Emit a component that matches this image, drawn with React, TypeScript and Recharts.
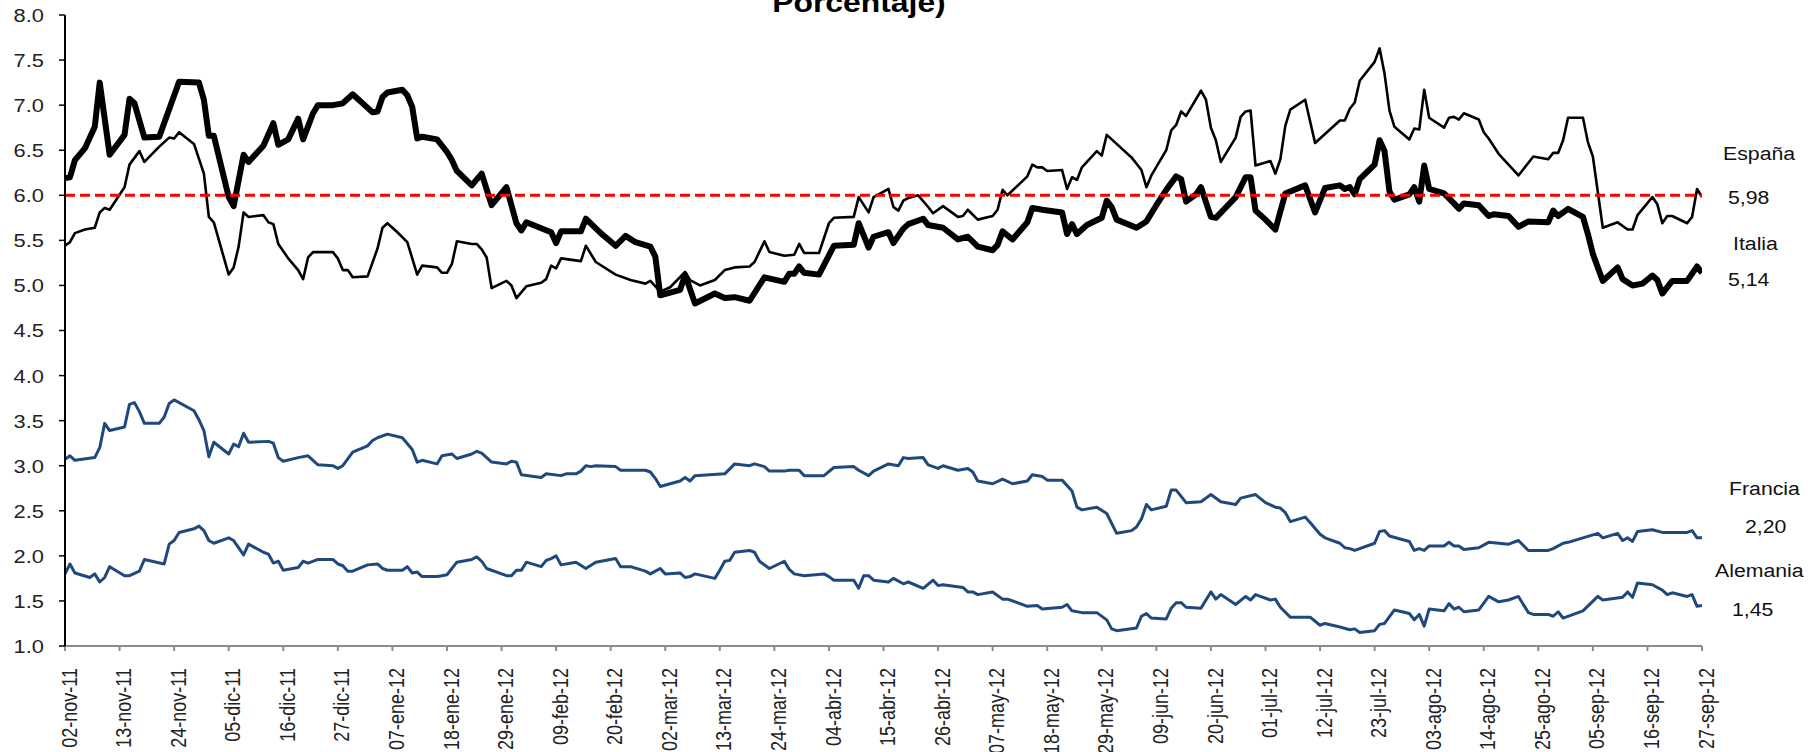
import { LineChart, Line, XAxis, YAxis, ReferenceLine } from 'recharts';

// días transcurridos desde el 02-nov-11
const TICK_LABELS = [
  '02-nov-11', '13-nov-11', '24-nov-11', '05-dic-11', '16-dic-11', '27-dic-11',
  '07-ene-12', '18-ene-12', '29-ene-12', '09-feb-12', '20-feb-12', '02-mar-12',
  '13-mar-12', '24-mar-12', '04-abr-12', '15-abr-12', '26-abr-12', '07-may-12',
  '18-may-12', '29-may-12', '09-jun-12', '20-jun-12', '01-jul-12', '12-jul-12',
  '23-jul-12', '03-ago-12', '14-ago-12', '25-ago-12', '05-sep-12', '16-sep-12',
  '27-sep-12',
];
const TICK_STEP = 11;
const Y_TICKS = [1, 1.5, 2, 2.5, 3, 3.5, 4, 4.5, 5, 5.5, 6, 6.5, 7, 7.5, 8];
const LIMIT = 6;

const ITALIA_DAYS = [
  0, 1, 2, 4, 6, 7, 9, 12, 13, 14, 16, 19, 23, 27, 28, 29, 30, 33, 34, 36, 37, 40, 42, 43, 45,
  47, 48, 50, 51, 54, 56, 58, 62, 63, 64, 65, 68, 69, 70, 71, 72, 75, 77, 78, 79, 82, 84, 86, 89,
  91, 92, 93, 98, 99, 100, 104, 105, 108, 111, 113, 115, 118, 119, 120, 124, 125, 127, 131, 133,
  135, 138, 141, 145, 146, 147, 148, 149, 152, 155, 159, 160, 162, 163, 166, 167, 169, 170, 173,
  174, 177, 180, 182, 184, 187, 188, 189, 191, 194, 195, 197, 201, 202, 203, 204, 206, 209, 210,
  211, 212, 216, 218, 220, 222, 224, 225, 226, 228, 229, 231, 232, 236, 238, 239, 240, 242, 244,
  246, 250, 252, 254, 257, 258, 259, 260, 261, 264, 265, 266, 267, 268, 271, 272, 273, 274, 275,
  278, 280, 281, 282, 285, 287, 288, 291, 293, 295, 299, 300, 301, 303, 306, 307, 308, 310, 313,
  314, 316, 318, 320, 321, 322, 324, 327, 329, 330,
];
const ITALIA = [
  6.19, 6.2, 6.39, 6.52, 6.76, 7.25, 6.45, 6.67, 7.07, 7.02, 6.64, 6.65, 7.26, 7.25, 7.06, 6.66,
  6.66, 5.98, 5.88, 6.45, 6.37, 6.55, 6.8, 6.56, 6.62, 6.85, 6.62, 6.91, 7.0, 7.0, 7.02, 7.12,
  6.92, 6.93, 7.09, 7.14, 7.17, 7.11, 6.98, 6.63, 6.65, 6.62, 6.48, 6.39, 6.27, 6.11, 6.24, 5.89,
  6.09, 5.69, 5.61, 5.7, 5.59, 5.47, 5.6, 5.6, 5.74, 5.58, 5.44, 5.55, 5.48, 5.43, 5.32, 4.89,
  4.95, 5.12, 4.8, 4.91, 4.86, 4.87, 4.83, 5.09, 5.04, 5.13, 5.13, 5.21, 5.14, 5.12, 5.44, 5.45,
  5.69, 5.42, 5.54, 5.59, 5.47, 5.63, 5.68, 5.74, 5.67, 5.64, 5.51, 5.54, 5.43, 5.39, 5.45, 5.6,
  5.51, 5.7, 5.86, 5.84, 5.81, 5.57, 5.68, 5.57, 5.67, 5.75, 5.94, 5.87, 5.73, 5.64, 5.71, 5.89,
  6.06, 6.21, 6.18, 5.93, 6.01, 6.09, 5.76, 5.75, 5.98, 6.2, 6.2, 5.83, 5.73, 5.62, 6.02, 6.11,
  5.81, 6.08, 6.11, 6.07, 6.09, 6.01, 6.18, 6.34, 6.61, 6.49, 6.04, 5.95, 6.01, 6.09, 5.93, 6.33,
  6.07, 6.02, 5.91, 5.85, 5.91, 5.89, 5.77, 5.79, 5.77, 5.65, 5.71, 5.7, 5.83, 5.77, 5.85, 5.76,
  5.57, 5.35, 5.05, 5.2, 5.07, 5.0, 5.02, 5.11, 5.06, 4.91, 5.05, 5.05, 5.21, 5.14,
];

const ESPANA_DAYS = [
  0, 1, 2, 4, 6, 7, 8, 9, 12, 13, 15, 16, 19, 21, 22, 23, 26, 28, 29, 30, 33, 34, 35, 36, 37, 40,
  41, 42, 43, 45, 47, 48, 49, 50, 54, 55, 56, 57, 58, 61, 63, 64, 65, 67, 69, 71, 72, 75, 76, 77,
  78, 79, 82, 83, 84, 85, 86, 89, 90, 91, 93, 96, 97, 98, 99, 100, 104, 105, 107, 111, 114, 117,
  118, 120, 122, 125, 126, 128, 131, 133, 135, 138, 139, 141, 142, 145, 147, 148, 149, 152, 154,
  155, 159, 160, 162, 163, 166, 167, 168, 169, 170, 172, 174, 175, 177, 180, 181, 182, 184, 187,
  188, 189, 190, 194, 195, 196, 197, 198, 201, 202, 203, 204, 205, 208, 209, 210, 212, 215, 217,
  218, 219, 222, 223, 224, 225, 226, 229, 230, 231, 232, 233, 236, 237, 238, 239, 240, 243, 244,
  245, 246, 247, 250, 252, 254, 257, 258, 259, 260, 261, 264, 265, 266, 267, 268, 271, 272, 273,
  274, 275, 278, 279, 280, 281, 282, 285, 286, 287, 289, 293, 296, 299, 300, 301, 302, 303, 306,
  307, 308, 310, 313, 315, 316, 317, 320, 321, 322, 323, 324, 327, 328, 329, 330,
];
const ESPANA = [
  5.44, 5.48, 5.58, 5.62, 5.64, 5.81, 5.86, 5.84, 6.09, 6.34, 6.49, 6.37, 6.54, 6.64, 6.63, 6.7,
  6.57, 6.24, 5.76, 5.7, 5.12, 5.2, 5.43, 5.81, 5.76, 5.78, 5.7, 5.68, 5.46, 5.3, 5.17, 5.07, 5.31,
  5.37, 5.37, 5.3, 5.17, 5.17, 5.09, 5.1, 5.41, 5.64, 5.69, 5.59, 5.48, 5.12, 5.22, 5.2, 5.14, 5.14,
  5.24, 5.49, 5.46, 5.46, 5.4, 5.31, 4.97, 5.05, 5.0, 4.86, 4.99, 5.03, 5.07, 5.22, 5.19, 5.3, 5.27,
  5.44, 5.26, 5.12, 5.06, 5.02, 5.05, 4.93, 4.98, 5.15, 5.06, 5.0, 5.06, 5.17, 5.2, 5.21, 5.26, 5.49,
  5.37, 5.33, 5.34, 5.46, 5.36, 5.36, 5.69, 5.75, 5.76, 5.98, 5.81, 5.98, 6.07, 5.87, 5.83, 5.94,
  5.97, 6.0, 5.87, 5.8, 5.88, 5.76, 5.77, 5.84, 5.73, 5.77, 5.84, 6.06, 6.0, 6.21, 6.34, 6.31, 6.31,
  6.27, 6.28, 6.07, 6.2, 6.17, 6.31, 6.49, 6.44, 6.67, 6.57, 6.42, 6.28, 6.09, 6.22, 6.5, 6.72, 6.78,
  6.93, 6.88, 7.16, 7.06, 6.75, 6.61, 6.37, 6.64, 6.87, 6.93, 6.94, 6.33, 6.38, 6.24, 6.4, 6.77,
  6.95, 7.06, 6.58, 6.68, 6.83, 6.83, 6.96, 7.03, 7.27, 7.48, 7.63, 7.35, 6.94, 6.76, 6.62, 6.74,
  6.73, 7.17, 6.86, 6.75, 6.86, 6.87, 6.84, 6.91, 6.84, 6.7, 6.63, 6.46, 6.22, 6.43, 6.4, 6.47, 6.47,
  6.61, 6.86, 6.86, 6.59, 6.43, 5.64, 5.7, 5.62, 5.62, 5.78, 5.98, 5.9, 5.69, 5.77, 5.77, 5.69, 5.76,
  6.07, 5.98,
];

const FRANCIA_DAYS = [
  0, 1, 2, 6, 7, 8, 9, 12, 13, 14, 15, 16, 19, 20, 21, 22, 26, 27, 28, 29, 30, 33, 34, 35, 36, 37,
  41, 42, 43, 44, 47, 49, 51, 54, 55, 56, 58, 61, 62, 63, 65, 68, 70, 71, 72, 75, 76, 78, 79, 82,
  83, 84, 86, 89, 90, 91, 92, 96, 97, 100, 101, 103, 104, 105, 106, 107, 111, 112, 117, 118, 119,
  120, 124, 125, 126, 127, 133, 135, 138, 139, 141, 142, 145, 146, 148, 149, 153, 155, 159, 160,
  162, 163, 166, 168, 169, 170, 173, 174, 176, 177, 180, 182, 183, 184, 187, 189, 191, 194, 195,
  197, 198, 201, 203, 204, 205, 208, 210, 212, 215, 216, 217, 218, 219, 222, 223, 224, 226, 229,
  231, 233, 236, 237, 240, 242, 244, 245, 246, 247, 250, 251, 253, 254, 257, 258, 259, 260, 264,
  265, 266, 267, 271, 272, 273, 274, 275, 278, 279, 280, 281, 282, 285, 287, 291, 293, 295, 299,
  300, 302, 303, 309, 310, 313, 314, 315, 316, 317, 320, 322, 327, 328, 329, 330,
];
const FRANCIA = [
  3.07, 3.11, 3.06, 3.09, 3.2, 3.47, 3.39, 3.43, 3.68, 3.7, 3.6, 3.47, 3.47, 3.54, 3.69, 3.73, 3.61,
  3.51, 3.39, 3.1, 3.26, 3.13, 3.24, 3.21, 3.36, 3.26, 3.27, 3.25, 3.09, 3.05, 3.09, 3.11, 3.01,
  3.0, 2.97, 3.0, 3.15, 3.22, 3.28, 3.31, 3.35, 3.31, 3.18, 3.04, 3.06, 3.02, 3.11, 3.13, 3.08,
  3.13, 3.16, 3.14, 3.04, 3.02, 3.05, 3.04, 2.9, 2.87, 2.91, 2.89, 2.91, 2.91, 2.94, 3.0, 2.99, 3.0,
  2.99, 2.95, 2.95, 2.93, 2.86, 2.77, 2.83, 2.87, 2.83, 2.89, 2.91, 3.02, 3.0, 3.02, 2.99, 2.94,
  2.94, 2.95, 2.95, 2.89, 2.89, 2.98, 2.99, 2.95, 2.89, 2.94, 3.02, 3.0, 3.09, 3.08, 3.09, 3.01,
  2.97, 3.0, 2.95, 2.97, 2.93, 2.83, 2.8, 2.85, 2.8, 2.83, 2.9, 2.88, 2.84, 2.84, 2.72, 2.54, 2.51,
  2.54, 2.47, 2.25, 2.28, 2.32, 2.41, 2.57, 2.51, 2.55, 2.73, 2.73, 2.59, 2.6, 2.68, 2.6, 2.57, 2.64,
  2.68, 2.59, 2.54, 2.53, 2.48, 2.38, 2.43, 2.37, 2.24, 2.2, 2.14, 2.09, 2.08, 2.06, 2.14, 2.27,
  2.28, 2.22, 2.16, 2.06, 2.08, 2.06, 2.11, 2.11, 2.15, 2.11, 2.11, 2.07, 2.09, 2.15, 2.13, 2.17,
  2.06, 2.06, 2.08, 2.14, 2.15, 2.25, 2.2, 2.25, 2.17, 2.2, 2.16, 2.27, 2.29, 2.26, 2.26, 2.28, 2.2,
  2.2,
];

const ALEMANIA_DAYS = [
  0, 1, 2, 5, 6, 7, 8, 9, 12, 13, 15, 16, 20, 21, 22, 23, 26, 27, 28, 29, 30, 33, 34, 36, 37, 40,
  41, 42, 43, 44, 47, 48, 49, 51, 54, 55, 56, 57, 58, 61, 63, 64, 65, 68, 69, 70, 71, 72, 75, 76,
  77, 79, 82, 83, 84, 85, 89, 90, 91, 92, 93, 96, 97, 98, 99, 100, 103, 105, 107, 111, 112, 114,
  117, 118, 120, 121, 124, 125, 126, 127, 131, 132, 133, 134, 135, 138, 139, 140, 142, 145, 146,
  147, 149, 153, 154, 155, 159, 160, 161, 162, 163, 166, 167, 169, 170, 173, 175, 176, 177, 181,
  182, 183, 184, 187, 189, 190, 194, 196, 197, 201, 202, 203, 205, 208, 210, 211, 212, 216, 217,
  218, 219, 222, 223, 224, 225, 226, 229, 231, 232, 233, 236, 238, 239, 240, 243, 244, 245, 247,
  251, 253, 254, 257, 259, 260, 261, 264, 265, 266, 268, 271, 272, 273, 274, 275, 278, 279, 280,
  281, 282, 285, 287, 289, 291, 293, 295, 296, 299, 300, 301, 302, 306, 309, 310, 314, 315, 316,
  317, 320, 322, 323, 324, 327, 328, 329, 330,
];
const ALEMANIA = [
  1.8, 1.91, 1.81, 1.76, 1.8, 1.71, 1.76, 1.88, 1.78, 1.78, 1.83, 1.96, 1.91, 2.13, 2.17, 2.26, 2.3,
  2.33, 2.28, 2.17, 2.14, 2.2, 2.17, 2.01, 2.13, 2.04, 2.02, 1.92, 1.94, 1.84, 1.87, 1.94, 1.92,
  1.96, 1.96, 1.91, 1.89, 1.83, 1.83, 1.9, 1.91, 1.86, 1.84, 1.84, 1.88, 1.81, 1.82, 1.77, 1.77,
  1.78, 1.79, 1.93, 1.96, 1.99, 1.94, 1.86, 1.78, 1.78, 1.84, 1.84, 1.93, 1.88, 1.95, 1.97, 2.0,
  1.9, 1.93, 1.86, 1.93, 1.97, 1.88, 1.88, 1.83, 1.8, 1.86, 1.8, 1.81, 1.76, 1.77, 1.8, 1.75, 1.84,
  1.94, 1.95, 2.04, 2.06, 2.04, 1.94, 1.86, 1.94, 1.85, 1.8, 1.78, 1.8, 1.77, 1.73, 1.73, 1.64,
  1.78, 1.78, 1.73, 1.71, 1.75, 1.69, 1.71, 1.64, 1.73, 1.67, 1.68, 1.65, 1.6, 1.6, 1.57, 1.6, 1.52,
  1.52, 1.44, 1.45, 1.41, 1.43, 1.46, 1.39, 1.37, 1.37, 1.29, 1.19, 1.17, 1.2, 1.33, 1.36, 1.31,
  1.3, 1.42, 1.48, 1.48, 1.43, 1.42, 1.6, 1.52, 1.57, 1.46, 1.55, 1.51, 1.57, 1.51, 1.52, 1.43,
  1.32, 1.32, 1.23, 1.25, 1.21, 1.18, 1.19, 1.15, 1.17, 1.24, 1.25, 1.4, 1.36, 1.29, 1.35, 1.22,
  1.41, 1.39, 1.47, 1.41, 1.43, 1.38, 1.4, 1.55, 1.49, 1.51, 1.55, 1.37, 1.35, 1.35, 1.33, 1.38,
  1.31, 1.39, 1.55, 1.51, 1.54, 1.6, 1.54, 1.7, 1.68, 1.62, 1.57, 1.59, 1.55, 1.57, 1.44, 1.45,
];

const COUNTRIES = ['España', 'Italia', 'Francia', 'Alemania'];
const LAST_VALUES = ['5,98', '5,14', '2,20', '1,45'];

const FONT = '"Liberation Sans", Arial, sans-serif';
const BLUE = '#1F497D';

const toPoints = (days: number[], vals: number[]) =>
  days.map((day, i) => ({ day, value: vals[i] }));

const tickDays = TICK_LABELS.map((_, i) => i * TICK_STEP);

function DateTick({ x, y, payload }: any) {
  const label = TICK_LABELS[Math.round(payload.value / TICK_STEP)];
  return (
    <text
      transform={`translate(${x + 4},${y + 17}) rotate(-90) scale(1,1.2)`}
      textAnchor="end"
      dominantBaseline="central"
      fontSize={18}
      fontFamily={FONT}
      fill="#222"
    >
      {label}
    </text>
  );
}

function ValueTick({ x, y, payload }: any) {
  return (
    <text
      transform={`translate(${x},${y}) scale(1.15,1)`}
      textAnchor="end"
      dominantBaseline="central"
      fontSize={19}
      fontFamily={FONT}
      fill="#222"
    >
      {payload.value.toFixed(1)}
    </text>
  );
}

// posiciones de las etiquetas a la derecha: [x, y del nombre, x, y del valor]
const labelPos = [
  [1723, 153, 1728, 197],
  [1733, 243, 1728, 279],
  [1729, 488, 1745, 526],
  [1715, 570, 1732, 609],
];

export default function App() {
  const italia = toPoints(ITALIA_DAYS, ITALIA);
  const espana = toPoints(ESPANA_DAYS, ESPANA);
  const francia = toPoints(FRANCIA_DAYS, FRANCIA);
  const alemania = toPoints(ALEMANIA_DAYS, ALEMANIA);

  return (
    <div style={{ position: 'absolute', left: 0, top: 0, width: 1820, height: 752, background: '#fff', overflow: 'hidden' }}>
      <LineChart width={1820} height={752} margin={{ top: 15, right: 118, bottom: 6, left: 5 }}>
        <XAxis
          dataKey="day"
          type="number"
          domain={[0, 330]}
          ticks={tickDays}
          interval={0}
          height={100}
          tickSize={5}
          tickMargin={0}
          axisLine={{ stroke: '#8c8c8c', strokeWidth: 2 }}
          tickLine={{ stroke: '#8c8c8c', strokeWidth: 2 }}
          tick={<DateTick />}
          allowDataOverflow
        />
        <YAxis
          type="number"
          domain={[1, 8]}
          ticks={Y_TICKS}
          interval={0}
          width={60}
          tickSize={6}
          tickMargin={15}
          axisLine={{ stroke: '#000', strokeWidth: 2 }}
          tickLine={{ stroke: '#000', strokeWidth: 1.5 }}
          tick={<ValueTick />}
          allowDataOverflow
        />
        <Line data={francia} dataKey="value" name="Francia" type="linear" stroke={BLUE} strokeWidth={3} dot={false} strokeLinejoin="round" isAnimationActive={false} />
        <Line data={alemania} dataKey="value" name="Alemania" type="linear" stroke={BLUE} strokeWidth={3} dot={false} strokeLinejoin="round" isAnimationActive={false} />
        <Line data={espana} dataKey="value" name="España" type="linear" stroke="#000" strokeWidth={2.6} dot={false} strokeLinejoin="round" isAnimationActive={false} />
        <Line data={italia} dataKey="value" name="Italia" type="linear" stroke="#000" strokeWidth={6} dot={false} strokeLinejoin="round" isAnimationActive={false} />
        <ReferenceLine y={LIMIT} stroke="#ff0000" strokeWidth={3} strokeDasharray="10 5" />
      </LineChart>
      <svg width={1820} height={752} style={{ position: 'absolute', left: 0, top: 0, pointerEvents: 'none' }}>
        <text
          transform="translate(859,12) scale(1.18,1)"
          textAnchor="middle"
          fontSize={27}
          fontWeight="bold"
          fontFamily={FONT}
          fill="#000"
        >
          Porcentaje)
        </text>
        {COUNTRIES.map((name, i) => (
          <g key={name} fontSize={19} fontFamily={FONT} fill="#111">
            <text transform={`translate(${labelPos[i][0]},${labelPos[i][1]}) scale(1.12,1)`} dominantBaseline="central">
              {name}
            </text>
            <text transform={`translate(${labelPos[i][2]},${labelPos[i][3]}) scale(1.12,1)`} dominantBaseline="central">
              {LAST_VALUES[i]}
            </text>
          </g>
        ))}
      </svg>
    </div>
  );
}
